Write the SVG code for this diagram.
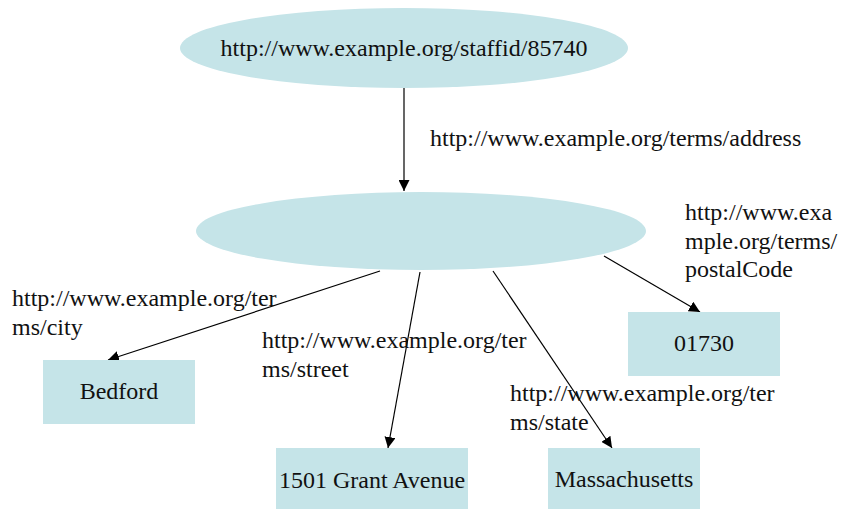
<svg xmlns="http://www.w3.org/2000/svg" width="843" height="509" viewBox="0 0 843 509">
  <style>
    .node { fill: #c5e4e8; stroke: none; }
    .lbl { font-family: "Liberation Serif", "Times New Roman", serif; font-size: 24px; fill: #111; }
    .mid { text-anchor: middle; }
    .edge { stroke: #000; stroke-width: 1.2; fill: none; marker-end: url(#arrow); }
  </style>
  <defs>
    <marker id="arrow" viewBox="0 0 10 10" refX="10" refY="5" markerWidth="11" markerHeight="11" markerUnits="userSpaceOnUse" orient="auto">
      <path d="M0,0 L10,5 L0,10 z" fill="#000"/>
    </marker>
  </defs>

  <rect width="843" height="509" fill="#fff"/>

  <g id="connectors">
    <line class="edge" x1="404" y1="88" x2="404" y2="191"/>
    <line class="edge" x1="380" y1="271" x2="108" y2="360"/>
    <line class="edge" x1="420" y1="272" x2="388" y2="448"/>
    <line class="edge" x1="493" y1="271" x2="612" y2="448"/>
    <line class="edge" x1="604" y1="256" x2="700" y2="312"/>
    <text class="lbl" x="430" y="146">http://www.example.org/terms/address</text>
    <text class="lbl" x="12" y="306">http://www.example.org/ter</text>
    <text class="lbl" x="12" y="335">ms/city</text>
    <text class="lbl" x="262" y="348">http://www.example.org/ter</text>
    <text class="lbl" x="262" y="377">ms/street</text>
    <text class="lbl" x="510" y="401">http://www.example.org/ter</text>
    <text class="lbl" x="510" y="430">ms/state</text>
    <text class="lbl" x="685" y="220">http://www.exa</text>
    <text class="lbl" x="685" y="249">mple.org/terms/</text>
    <text class="lbl" x="685" y="277">postalCode</text>
  </g>

  <g id="staff">
    <ellipse class="node" cx="404" cy="48" rx="224" ry="40"/>
    <text class="lbl mid" x="404" y="56">http://www.example.org/staffid/85740</text>
  </g>

  <g id="address">
    <ellipse class="node" cx="421" cy="231" rx="225" ry="39"/>
  </g>

  <g id="city">
    <rect class="node" x="43" y="360" width="152" height="64"/>
    <text class="lbl mid" x="119" y="399">Bedford</text>
  </g>

  <g id="street">
    <rect class="node" x="276" y="448" width="192" height="62"/>
    <text class="lbl mid" x="372" y="488">1501 Grant Avenue</text>
  </g>

  <g id="state">
    <rect class="node" x="548" y="448" width="152" height="61"/>
    <text class="lbl mid" x="624" y="487">Massachusetts</text>
  </g>

  <g id="postal">
    <rect class="node" x="628" y="312" width="152" height="64"/>
    <text class="lbl mid" x="704" y="351">01730</text>
  </g>
</svg>
